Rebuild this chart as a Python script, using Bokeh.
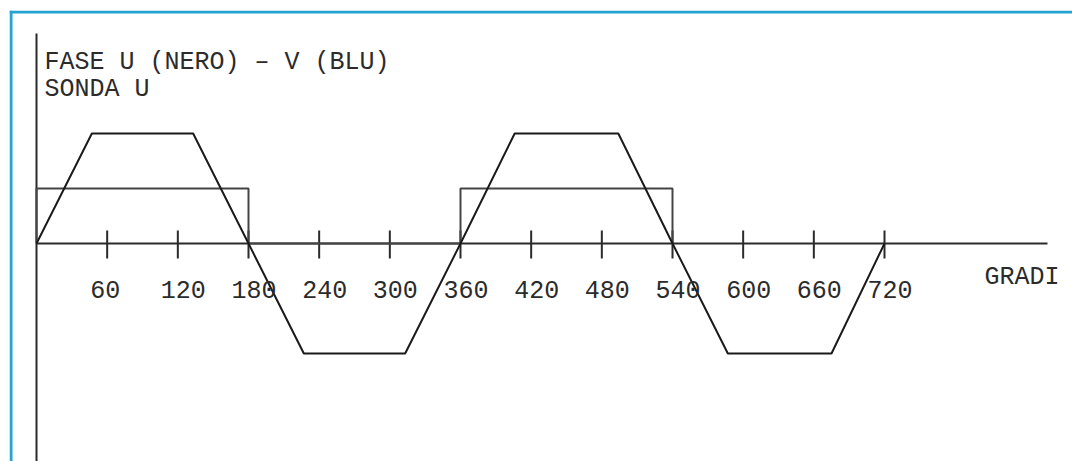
from bokeh.plotting import figure
from bokeh.models import Span
from bokeh.core.properties import value
from bokeh.embed import file_html
from bokeh.resources import INLINE

# Phase U back-EMF (trapezoid): electrical degrees vs normalised amplitude
phase_deg = [0, 47, 133, 180, 227, 313, 360, 406, 494, 540, 587, 675, 720]
phase_val = [0, 1, 1, 0, -1, -1, 0, 1, 1, 0, -1, -1, 0]

# Hall probe U (square wave)
probe_deg = [0, 0, 180, 180, 360, 360, 540, 540]
probe_val = [0, 0.5, 0.5, 0, 0, 0.5, 0.5, 0]

# Degree ticks along the horizontal axis
tick_deg = [60, 120, 180, 240, 300, 360, 420, 480, 540, 600, 660, 720]
tick_labels = [str(t) for t in tick_deg]

title_lines = ["FASE U (NERO) – V (BLU)", "SONDA U"]
axis_label = "GRADI"

# Screen layout helpers (pixel -> data)
PX_PER_DEG = (884 - 36) / 720.0
PX_PER_UNIT = 110.0


def deg_at(px):
    return (px - 36) / PX_PER_DEG


def val_at(py):
    return (243 - py) / PX_PER_UNIT


FONT = value("Liberation Mono")
INK = "#2b2b2b"

p = figure(
    width=1072, height=461,
    x_range=(deg_at(9), deg_at(1072)),
    y_range=(val_at(461), val_at(10)),
    x_axis_type=None, y_axis_type=None,
    min_border_left=9, min_border_top=10,
    min_border_right=0, min_border_bottom=0,
    outline_line_color=None,
    background_fill_color="white", border_fill_color="white",
    output_backend="svg", toolbar_location=None,
)
p.grid.grid_line_color = None

# Blue page frame (top and left edges)
p.add_layout(Span(location=deg_at(10.5), dimension="height",
                  line_color="#25a4d2", line_width=3))
p.add_layout(Span(location=val_at(11.5), dimension="width",
                  line_color="#25a4d2", line_width=3))

# Axes drawn through the origin
p.segment(x0=[0], y0=[val_at(33)], x1=[0], y1=[val_at(461)],
          line_color=INK, line_width=2)
p.segment(x0=[0], y0=[0], x1=[deg_at(1047)], y1=[0],
          line_color=INK, line_width=2)

# Tick marks crossing the horizontal axis
p.segment(x0=tick_deg, y0=[val_at(230)] * len(tick_deg),
          x1=tick_deg, y1=[val_at(258)] * len(tick_deg),
          line_color=INK, line_width=2)

# Waveforms
p.line(probe_deg, probe_val, line_color="#444444", line_width=2)
p.line(phase_deg, phase_val, line_color="#1a1a1a", line_width=2)

# Tick labels
p.text(x=tick_deg, y=[val_at(288.5)] * len(tick_deg), text=tick_labels,
       x_offset=-17, text_font=FONT, text_font_size="25px",
       text_color=INK, text_align="left", text_baseline="alphabetic")

# Axis label
p.text(x=[deg_at(984)], y=[val_at(277)], text=[axis_label],
       text_font=FONT, text_font_size="25px",
       text_color=INK, text_align="left", text_baseline="alphabetic")

# Title lines
p.text(x=[deg_at(44)] * 2, y=[val_at(61.7), val_at(88.5)], text=title_lines,
       text_font=FONT, text_font_size="25px",
       text_color=INK, text_align="left", text_baseline="alphabetic")

open("out.html", "w").write(file_html(p, INLINE))
